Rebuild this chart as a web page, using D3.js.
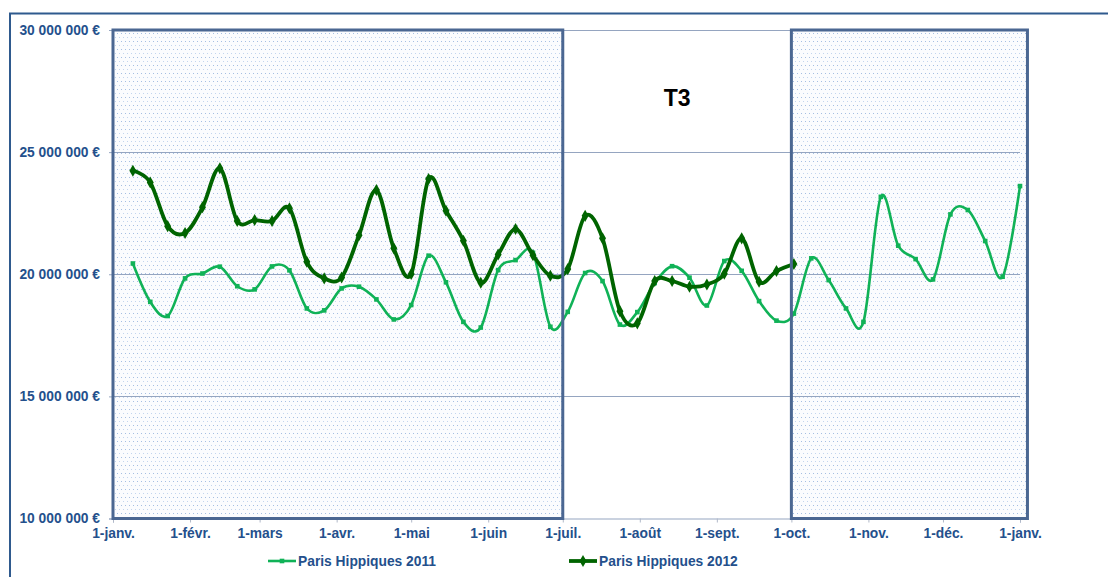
<!DOCTYPE html>
<html><head><meta charset="utf-8">
<script src="https://cdn.jsdelivr.net/npm/d3@7"></script>
<style>
html,body{margin:0;padding:0;background:#fff;}
svg{display:block;}
text{font-family:"Liberation Sans",Arial,sans-serif;}
</style></head>
<body>
<svg id="chart" width="1108" height="577"></svg>
<script>
// ---- data ----
const weekDates = [
 "2011-01-09","2011-01-16","2011-01-23","2011-01-30",
 "2011-02-06","2011-02-13","2011-02-20","2011-02-27",
 "2011-03-06","2011-03-13","2011-03-20","2011-03-27",
 "2011-04-03","2011-04-10","2011-04-17","2011-04-24",
 "2011-05-01","2011-05-08","2011-05-15","2011-05-22","2011-05-29",
 "2011-06-05","2011-06-12","2011-06-19","2011-06-26",
 "2011-07-03","2011-07-10","2011-07-17","2011-07-24","2011-07-31",
 "2011-08-07","2011-08-14","2011-08-21","2011-08-28",
 "2011-09-04","2011-09-11","2011-09-18","2011-09-25",
 "2011-10-02","2011-10-09","2011-10-16","2011-10-23","2011-10-30",
 "2011-11-06","2011-11-13","2011-11-20","2011-11-27",
 "2011-12-04","2011-12-11","2011-12-18","2011-12-25",
 "2012-01-01"
];
const paris2011 = [
 20.44,18.87,18.29,19.83,20.03,20.31,19.51,19.38,20.32,20.16,
 18.60,18.52,19.42,19.49,18.97,18.15,18.74,20.76,19.67,18.05,
 17.82,20.17,20.58,20.88,17.85,18.46,20.05,19.72,17.94,18.45,
 19.64,20.33,19.86,18.72,20.54,20.14,18.90,18.10,18.39,20.65,
 19.76,18.60,18.05,23.17,21.17,20.62,19.79,22.45,22.63,21.36,
 19.90,23.61
].map(v => v * 1e6);
const paris2012 = [
 24.24,23.76,21.97,21.69,22.74,24.34,22.18,22.22,22.18,22.70,
 20.51,19.83,19.87,21.60,23.45,21.06,20.01,23.90,22.60,21.37,
 19.65,20.81,21.85,20.78,19.94,20.21,22.39,21.47,18.49,17.99,
 19.72,19.72,19.49,19.58,20.02,21.47,19.69,20.13,20.42
].map(v => v * 1e6);
const seriesNames = ["Paris Hippiques 2011","Paris Hippiques 2012"];
const yTicks = [10e6, 15e6, 20e6, 25e6, 30e6];
const monthTicks = ["2011-01-01","2011-02-01","2011-03-01","2011-04-01","2011-05-01","2011-06-01",
 "2011-07-01","2011-08-01","2011-09-01","2011-10-01","2011-11-01","2011-12-01","2012-01-01"];
const monthLabels = ["1-janv.","1-févr.","1-mars","1-avr.","1-mai","1-juin","1-juil.",
 "1-août","1-sept.","1-oct.","1-nov.","1-déc.","1-janv."];
// shaded periods (T1-T2 and T4)
const shadedPeriods = [["2011-01-01","2011-07-01"],["2011-10-01","2012-01-04"]];
const periodLabel = {text:"T3", start:"2011-07-01", end:"2011-10-01", value:26.9e6};

// ---- setup ----
const parse = d3.utcParse("%Y-%m-%d");
const svg = d3.select("#chart");
const pLeft = 113, pRight = 1020, pTop = 30, pBottom = 518.5;
const x = d3.scaleUtc().domain([parse("2011-01-01"), parse("2012-01-01")]).range([pLeft, pRight]);
const y = d3.scaleLinear().domain([10e6, 30e6]).range([pBottom, pTop]);
const textCol = "#24508c";
const gridCol = "#95a5c0";
const boxCol = "#4b6792";
const fontSize = "13.8px";

const defs = svg.append("defs");
const pat = defs.append("pattern").attr("id","dots").attr("patternUnits","userSpaceOnUse")
  .attr("width",4).attr("height",8);
pat.append("rect").attr("width",4).attr("height",8).attr("fill","#fbfcfe");
pat.append("rect").attr("x",1).attr("y",1).attr("width",1).attr("height",1).attr("fill","#a6bfe2");
pat.append("rect").attr("x",3).attr("y",5).attr("width",1).attr("height",1).attr("fill","#c3d5ee");

// outer frame
svg.append("rect").attr("x",10).attr("y",13.5).attr("width",1200).attr("height",700)
  .attr("fill","none").attr("stroke","#2f5a8e").attr("stroke-width",2);

// shaded fills
svg.append("g").selectAll("rect").data(shadedPeriods).join("rect")
  .attr("x", d => x(parse(d[0])))
  .attr("y", pTop)
  .attr("width", d => x(parse(d[1])) - x(parse(d[0])))
  .attr("height", pBottom - pTop)
  .attr("fill","url(#dots)");

// gridlines
svg.append("g").selectAll("line").data(yTicks.slice(1)).join("line")
  .attr("x1", pLeft).attr("x2", pRight)
  .attr("y1", d => Math.round(y(d)) + 0.5).attr("y2", d => Math.round(y(d)) + 0.5)
  .attr("stroke", gridCol).attr("stroke-width",1);

// y axis
const yAxis = svg.append("g").attr("transform",`translate(${pLeft},0)`)
  .call(d3.axisLeft(y).tickValues(yTicks).tickSize(4).tickPadding(9)
    .tickFormat(d => d3.format(",")(d).replace(/,/g," ") + " €"));
yAxis.select(".domain").attr("stroke", gridCol);
yAxis.selectAll(".tick line").attr("stroke", gridCol);
yAxis.selectAll("text").attr("fill", textCol).attr("font-size",fontSize).attr("font-weight","bold");

// x axis
const xAxis = svg.append("g").attr("transform",`translate(0,${pBottom})`)
  .call(d3.axisBottom(x).tickValues(monthTicks.map(parse)).tickSize(4).tickPadding(6)
    .tickFormat((d,i) => monthLabels[i]));
xAxis.select(".domain").attr("stroke", gridCol);
xAxis.selectAll(".tick line").attr("stroke", "#b0b8c8");
xAxis.selectAll("text").attr("fill", textCol).attr("font-size",fontSize).attr("font-weight","bold");

// lines
const curve = d3.curveCatmullRom.alpha(0);
const d2011 = paris2011.map((v,i) => ({d: parse(weekDates[i]), v}));
const d2012 = paris2012.map((v,i) => ({d: parse(weekDates[i]), v}));
const line = d3.line().x(p => x(p.d)).y(p => y(p.v)).curve(curve);

const c2011 = "#10b257", c2012 = "#006400";
svg.append("path").datum(d2011).attr("d", line).attr("fill","none")
  .attr("stroke", c2011).attr("stroke-width",2.6);
svg.append("g").selectAll("rect").data(d2011).join("rect")
  .attr("x", p => x(p.d) - 2.3).attr("y", p => y(p.v) - 2.3)
  .attr("width",4.6).attr("height",4.6).attr("fill", c2011);

svg.append("path").datum(d2012).attr("d", line).attr("fill","none")
  .attr("stroke", c2012).attr("stroke-width",3.8);
const diamond = d3.symbol().type(d3.symbolDiamond).size(42);
svg.append("g").selectAll("path").data(d2012).join("path")
  .attr("transform", p => `translate(${x(p.d)},${y(p.v)})`)
  .attr("d", diamond).attr("fill", c2012);

// shaded period borders
svg.append("g").selectAll("rect").data(shadedPeriods).join("rect")
  .attr("x", d => x(parse(d[0])))
  .attr("y", pTop)
  .attr("width", d => x(parse(d[1])) - x(parse(d[0])))
  .attr("height", pBottom - pTop)
  .attr("fill","none").attr("stroke", boxCol).attr("stroke-width",3);

// T3 label
svg.append("text")
  .attr("x", (x(parse(periodLabel.start)) + x(parse(periodLabel.end))) / 2)
  .attr("y", y(periodLabel.value))
  .attr("text-anchor","middle")
  .attr("font-family","'Open Sans',sans-serif")
  .attr("font-weight","bold").attr("font-size","23px").attr("fill","#000")
  .text(periodLabel.text);

// legend
const legendItems = [
  {name: seriesNames[0], color: c2011, x0: 268, w: 2.6, marker: "square"},
  {name: seriesNames[1], color: c2012, x0: 569, w: 3.8, marker: "diamond"}
];
const lg = svg.append("g").selectAll("g").data(legendItems).join("g")
  .attr("transform", d => `translate(${d.x0},561)`);
lg.append("line").attr("x1",0).attr("x2",28).attr("y1",0).attr("y2",0)
  .attr("stroke", d => d.color).attr("stroke-width", d => d.w);
lg.each(function(d){
  const g = d3.select(this);
  if (d.marker === "square") g.append("rect").attr("x",11.7).attr("y",-2.3).attr("width",4.6).attr("height",4.6).attr("fill",d.color);
  else g.append("path").attr("transform","translate(14,0)").attr("d", diamond).attr("fill", d.color);
});
lg.append("text").attr("x",30).attr("y",0).attr("dy","0.35em")
  .attr("fill", textCol).attr("font-size",fontSize).attr("font-weight","bold")
  .text(d => d.name);
</script>
</body></html>
